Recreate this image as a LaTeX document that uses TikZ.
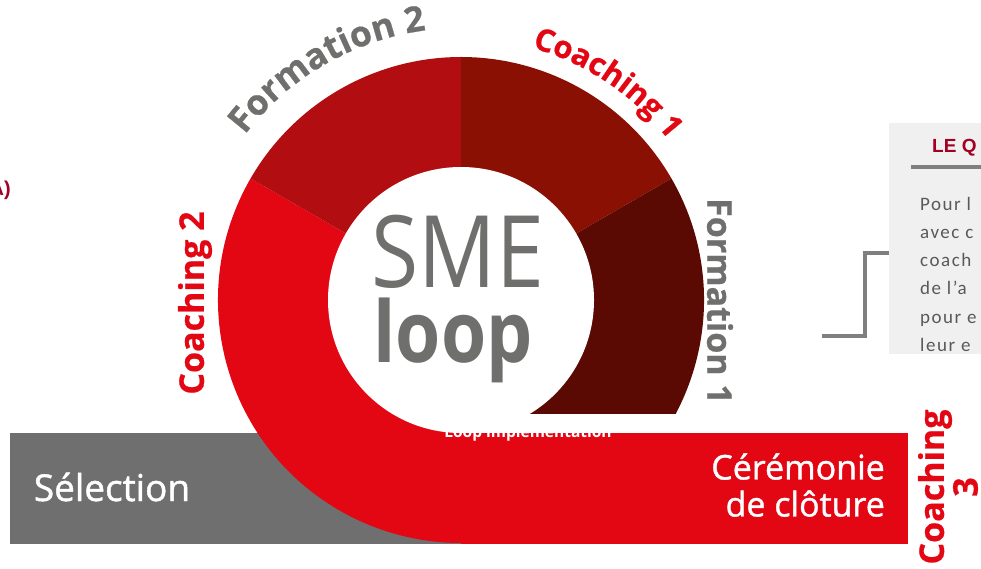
\documentclass[tikz,border=0pt]{standalone}
\usepackage{fontspec}
\setmainfont{Open Sans}
\newfontfamily\narrowfont{Open Sans}[FakeStretch=0.86]
\newfontfamily\semifont{Open Sans}[FakeBold=1.2]
\newfontfamily\labelfamily{Open Sans}[FakeBold=0.6]
\newfontfamily\arialfont{Liberation Sans}
\newfontfamily\bodyfont{Carlito}[LetterSpace=8]
\usetikzlibrary{decorations.text}

\definecolor{ringred}{RGB}{227,6,19}
\definecolor{ftwored}{RGB}{178,14,17}
\definecolor{conered}{RGB}{139,16,4}
\definecolor{fonered}{RGB}{90,10,2}
\definecolor{bargray}{RGB}{112,111,111}
\definecolor{textgray}{RGB}{111,111,110}
\definecolor{titlered}{RGB}{163,0,35}
\definecolor{boxgray}{RGB}{240,240,240}
\definecolor{linegray}{RGB}{127,127,127}
\definecolor{bodygray}{RGB}{89,89,89}

\newcommand{\labfont}{\labelfamily\fontsize{34}{40}\selectfont\bfseries}

\tikzset{
  ringlabel/.style={font=\labfont, inner sep=0pt},
  bartext/.style={text=white, inner sep=0pt},
  connline/.style={linegray, line width=3.5pt}
}

\begin{document}
\begin{tikzpicture}[x=1pt,y=1pt]
\useasboundingbox (0,0) rectangle (981,568);
\coordinate (c) at (461,268);

\fill[bargray] (10,24) rectangle (461,135);
\fill[ringred] (c) -- ([shift={(150:243)}]c) arc[start angle=150, end angle=270, radius=243] -- cycle;
\fill[ringred] (461,24) rectangle (908,135);
\fill[ftwored] (c) -- ([shift={(150:243)}]c) arc[start angle=150, end angle=90, radius=243] -- cycle;
\fill[conered] (c) -- ([shift={(90:243)}]c) arc[start angle=90, end angle=30, radius=243] -- cycle;
\begin{scope}
\clip (0,155) rectangle (981,568);
\fill[fonered] (c) -- ([shift={(30:243)}]c) arc[start angle=30, end angle=-90, radius=243] -- cycle;
\end{scope}
\fill[white] (c) circle[radius=133];

\node[text=textgray, font=\narrowfont\fontsize{100}{100}\selectfont, anchor=base] (sme) at (458,280) {SME};
\node[text=textgray, font=\narrowfont\fontsize{85}{85}\selectfont\bfseries, anchor=base] (loop) at (453,206) {loop};
\node[bartext, font=\fontsize{15.5}{18}\selectfont\bfseries, anchor=base] (impl) at (528,131) {Loop implementation};

\node[bartext, font=\semifont\fontsize{37}{40}\selectfont, anchor=base] (selection) at (112,67) {Sélection};
\node[bartext, font=\semifont\fontsize{34}{37}\selectfont, align=right, anchor=south east] (ceremonie) at (885,51) {Cérémonie\\de clôture};

\path[decorate, decoration={text along path, text align=center,
  text={|\labelfamily\fontsize{35.5}{40}\selectfont\bfseries\color{textgray}|Formation 2}}]
  ([shift={(151:272)}]c) arc[start angle=151, end angle=89, radius=272];
\path[decorate, decoration={text along path, text align=center,
  text={|\labelfamily\fontsize{31}{36}\selectfont\bfseries\color{ringred}|Coaching 1}}]
  ([shift={(86:262)}]c) arc[start angle=86, end angle=26, radius=262];
\node[ringlabel, text=textgray, rotate=-90] (fone) at (720,267) {Formation 1};
\node[ringlabel, text=ringred, rotate=90] (ctwo) at (195,265) {Coaching 2};
\node[ringlabel, text=ringred, rotate=90, align=center, font=\labelfamily\fontsize{34}{31}\selectfont\bfseries] (cthree) at (948,81) {Coaching\\3};

\node[fill=boxgray, minimum width=120, minimum height=231, inner sep=0pt, anchor=north west] (qbox) at (889,445) {};
\node[text=titlered, font=\arialfont\bfseries\fontsize{19}{22}\selectfont, inner sep=0pt, anchor=base west] (qtitle) at (932,415) {LE Q};
\draw[linegray, line width=3.3pt] (911,401) -- (qbox.east |- 0,401);
\node[text=bodygray, font=\bodyfont\fontsize{19}{28.2}\selectfont, align=left, inner sep=0pt, anchor=north west] (qtext) at (920,371) {Pour l\\avec c\\coach\\de l’a\\pour e\\leur e};

\node[text=titlered, font=\arialfont\bfseries\fontsize{20}{24}\selectfont, inner sep=0pt, anchor=base east] (alab) at (11,372) {A)};

\coordinate (lntop) at (0,315);
\coordinate (lnend) at (822,232);
\draw[connline] (qbox.west |- lntop) -- ++(-24,0) |- (lnend);
\end{tikzpicture}
\end{document}
